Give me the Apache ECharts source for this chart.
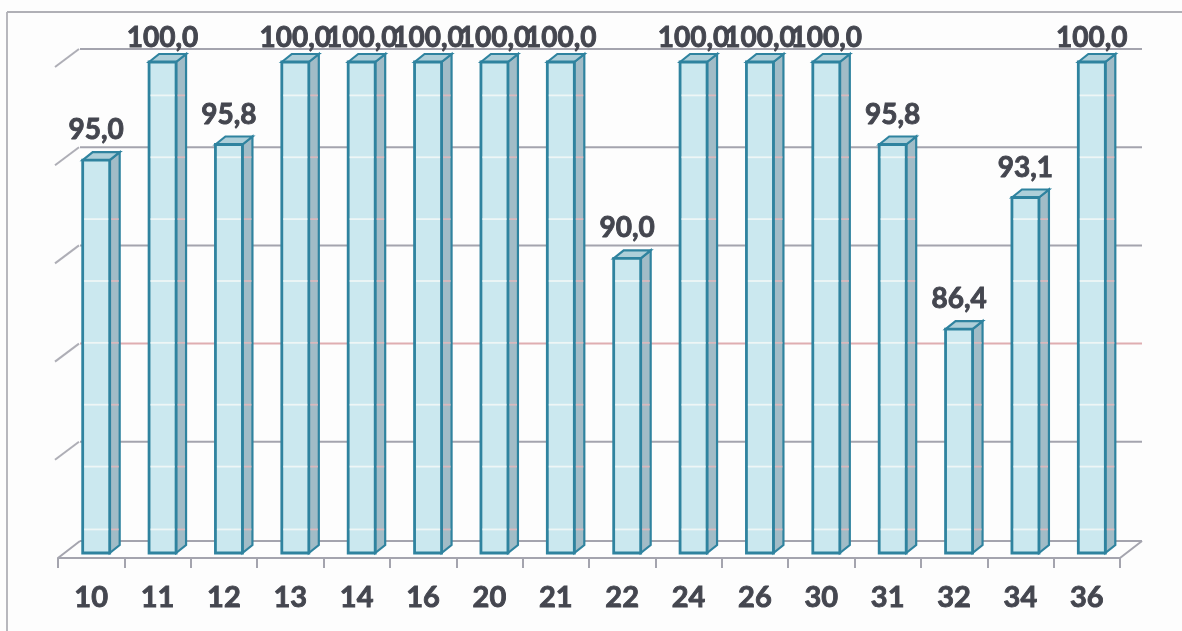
<!DOCTYPE html>
<html><head><meta charset="utf-8">
<style>html,body{margin:0;padding:0;background:#fdfdfd}#c{width:1182px;height:631px}</style>
<script src="https://cdn.jsdelivr.net/npm/echarts@6/dist/echarts.min.js"></script>
</head><body><div id="c"></div>
<script>
const categories = ['10','11','12','13','14','16','20','21','22','24','26','30','31','32','34','36'];
const values = [95.0,100.0,95.8,100.0,100.0,100.0,100.0,100.0,90.0,100.0,100.0,100.0,95.8,86.4,93.1,100.0];
const valueLabels = ['95,0','100,0','95,8','100,0','100,0','100,0','100,0','100,0','90,0','100,0','100,0','100,0','95,8','86,4','93,1','100,0'];
const gridValues = [75,80,85,90,95,100];
const bandValues = [76.2,79.4,82.55,85.7,88.85,92,95.15,98.3];

const depthX = 22, depthY = 12, barW = 27, sideX = 10, sideY = 8, barShift = 5;
const FONT = 'Lato, "Open Sans", sans-serif';
const chart = echarts.init(document.getElementById('c'), null, {renderer:'canvas'});

function wallItem(params, api) {
  const v = api.value(0);
  const p = api.coord([0, v]);
  const cs = params.coordSys;
  const y = p[1] - depthY - (v === 75 ? 0 : 1);
  const left = cs.x + depthX, right = cs.x + cs.width + depthX;
  const col = v === 85 ? '#dfaeb1' : '#a4a4ae';
  const children = [{type:'line', shape:{x1:left, y1:y, x2:right, y2:y}, style:{stroke:col, lineWidth:2}}];
  if (v !== 75) children.push({type:'line', shape:{x1:cs.x - 3, y1:y + 18, x2:left - 1, y2:y}, style:{stroke:'#aeaeb6', lineWidth:2}});
  else children.push({type:'line', shape:{x1:cs.x, y1:y + 17, x2:left, y2:y}, style:{stroke:'#a4a4ae', lineWidth:2}});
  if (v === 75) children.push({type:'line', shape:{x1:cs.x + cs.width, y1:y + 17, x2:right, y2:y}, style:{stroke:'#a4a4ae', lineWidth:2}});
  return {type:'group', children};
}

function barItem(params, api) {
  const i = api.value(0), v = api.value(1);
  const top = api.coord([i, v]), base = api.coord([i, 75]);
  const x0 = top[0] + barShift - barW / 2, x1 = x0 + barW;
  const yT = top[1], yB = base[1];
  const edge = '#2f839f';
  const kids = [
    {type:'polygon', shape:{points:[[x1,yT],[x1+sideX,yT-sideY],[x1+sideX,yB-sideY],[x1,yB]]},
      style:{fill:'#a1bcc7', stroke:edge, lineWidth:2.2}},
    {type:'polygon', shape:{points:[[x0,yT],[x0+sideX,yT-sideY],[x1+sideX,yT-sideY],[x1,yT]]},
      style:{fill:'#aecfd9', stroke:edge, lineWidth:2.2}},
    {type:'rect', shape:{x:x0, y:yT, width:barW, height:yB-yT},
      style:{fill:'#cbe8ef', stroke:edge, lineWidth:2.8}}
  ];
  bandValues.forEach(b => {
    if (b < v) {
      const y = api.coord([i, b])[1];
      kids.push({type:'line', shape:{x1:x0+1.5, y1:y, x2:x1-1.5, y2:y}, style:{stroke:'#eef6f6', lineWidth:1.8}});
      kids.push({type:'line', shape:{x1:x1+1.5, y1:y, x2:x1+sideX-1, y2:y}, style:{stroke:'#d9b9bd', lineWidth:1.8}});
    }
  });
  const gap = v === 100 ? 10 : 16;
  kids.push({type:'text', style:{text:valueLabels[i], x:top[0]+barShift, y:yT-gap, align:'center', verticalAlign:'bottom',
    fill:'#44464f', stroke:'#44464f', lineWidth:0.9, font:'700 28px ' + FONT}, z2:50});
  return {type:'group', children:kids};
}

chart.setOption({
  animation:false,
  backgroundColor:'#fdfdfd',
  graphic:[
    {type:'line', silent:true, shape:{x1:7,y1:12,x2:1182,y2:12}, style:{stroke:'#b0b0b6',lineWidth:1.8}},
    {type:'line', silent:true, shape:{x1:7,y1:12,x2:7,y2:631}, style:{stroke:'#b0b0b6',lineWidth:1.8}}
  ],
  grid:{left:58, right:62, top:62, bottom:78},
  xAxis:{type:'category', data:categories, offset:5,
    axisLine:{show:true, lineStyle:{color:'#a4a4ae', width:2}},
    axisTick:{show:true, length:10, lineStyle:{color:'#a4a4ae', width:2}},
    axisLabel:{color:'#44464f', fontFamily:FONT, fontWeight:700, fontSize:29, margin:25, interval:0,
      textBorderColor:'#44464f', textBorderWidth:0.9},
    splitLine:{show:false}},
  yAxis:{type:'value', min:75, max:100, interval:5,
    axisLine:{show:false}, axisTick:{show:false}, axisLabel:{show:false}, splitLine:{show:false}},
  series:[
    {type:'custom', name:'wall', data:gridValues.map(v=>[v]), renderItem:wallItem, clip:false, z:1, silent:true,
      encode:{y:0}},
    {type:'custom', name:'bars', data:values.map((v,i)=>[i,v]), renderItem:barItem, clip:false, z:3,
      encode:{x:0,y:1}}
  ]
});
</script></body></html>
